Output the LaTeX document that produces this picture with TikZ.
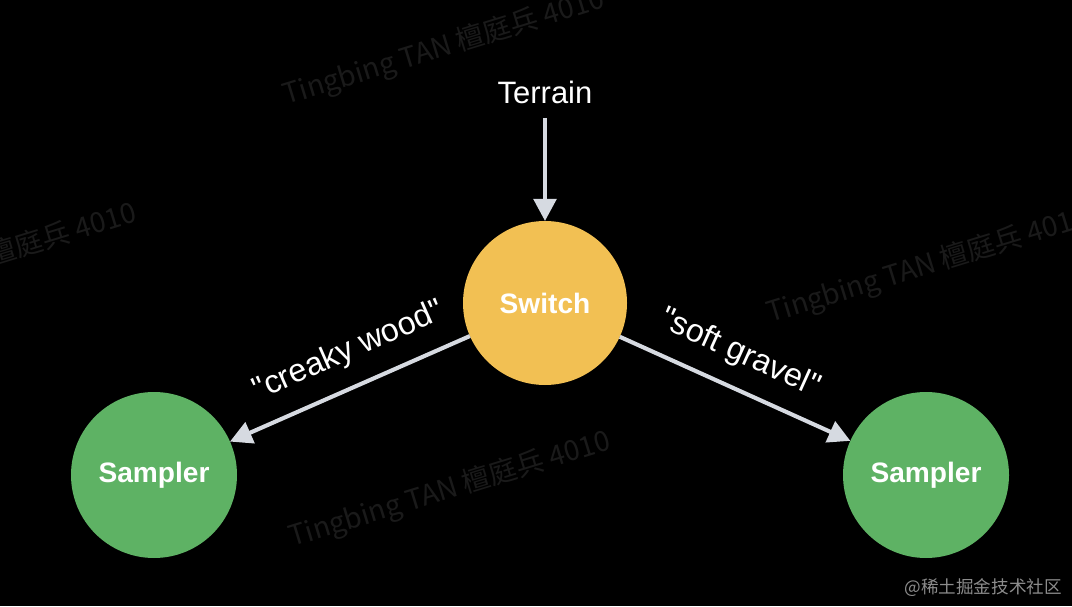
\documentclass[tikz,border=0pt]{standalone}
\usepackage{fontspec}
\setmainfont{Liberation Sans}
\newfontfamily\cjkfont{Noto Sans CJK SC}
\usetikzlibrary{arrows.meta,positioning}
\definecolor{slideblack} {RGB}{0,0,0}
\definecolor{switchgold} {RGB}{242,192,83}
\definecolor{samplergreen}{RGB}{94,178,100}
\definecolor{flowgray}   {RGB}{214,218,225}
\definecolor{markgray}   {RGB}{26,26,26}
\definecolor{sitegray}   {RGB}{140,140,140}

\begin{document}
\begin{tikzpicture}[
  >={Triangle[length=0.55cm,width=0.56cm]},
  flow/.style={->,draw=flowgray,fill=flowgray,line width=2.9pt},
  hub/.style={circle,fill=switchgold,minimum size=4.1cm,inner sep=0pt,outer sep=0pt,
              font=\fontsize{20}{24}\selectfont\bfseries,text=white},
  sink/.style={circle,fill=samplergreen,minimum size=4.15cm,inner sep=0pt,outer sep=0pt,
               font=\fontsize{20}{24}\selectfont\bfseries,text=white},
  edgelabel/.style={font=\fontsize{23}{26}\selectfont,text=white,inner sep=0.1cm},
  wmark/.style={font=\cjkfont\fontsize{20}{24}\selectfont,text=markgray,rotate=17},
]

%% ── Slide background ────────────────────────────────────────────────────────
\fill[slideblack] (0,0) rectangle (26.8,15.15);
\useasboundingbox (0,0) rectangle (26.8,15.15);
\clip (0,0) rectangle (26.8,15.15);

%% ── Watermarks ──────────────────────────────────────────────────────────────
\node[wmark] (wmtop)   at (11.1,13.95)  {Tingbing TAN 檀庭兵 4010};
\node[wmark] (wmleft)  at (-0.6,8.6)    {Tingbing TAN 檀庭兵 4010};
\node[wmark] (wmright) at (23.2,8.5)    {Tingbing TAN 檀庭兵 4010};
\node[wmark] (wmlow)   at (11.25,2.9)   {Tingbing TAN 檀庭兵 4010};

%% ── Nodes ───────────────────────────────────────────────────────────────────
\node[font=\fontsize{22}{26}\selectfont,text=white,anchor=base,inner sep=0.33cm]
  (terrain) at (13.625,12.55) {Terrain};
\node[hub]  (switch)   at (13.625,7.575) {Switch};
\node[sink] (samplerL) at (3.85,3.275)   {Sampler};
\node[sink] (samplerR) at (23.15,3.275)  {Sampler};

%% ── Connectors ──────────────────────────────────────────────────────────────
\draw[flow] (terrain) -- (switch);
\draw[flow] (switch) -- node[edgelabel,midway,sloped,above=0.34cm,xshift=0.35cm] (lblwood)
  {\textquotedbl creaky wood\textquotedbl} (samplerL);
\draw[flow] (switch) -- node[edgelabel,midway,sloped,above=0.32cm,xshift=-0.25cm] (lblgravel)
  {\textquotedbl soft gravel\textquotedbl} (samplerR);

%% ── Site tag ────────────────────────────────────────────────────────────────
\node[font=\cjkfont\fontsize{12.5}{14}\selectfont,text=sitegray] (site) at (24.58,0.45) {@稀土掘金技术社区};

\end{tikzpicture}
\end{document}
